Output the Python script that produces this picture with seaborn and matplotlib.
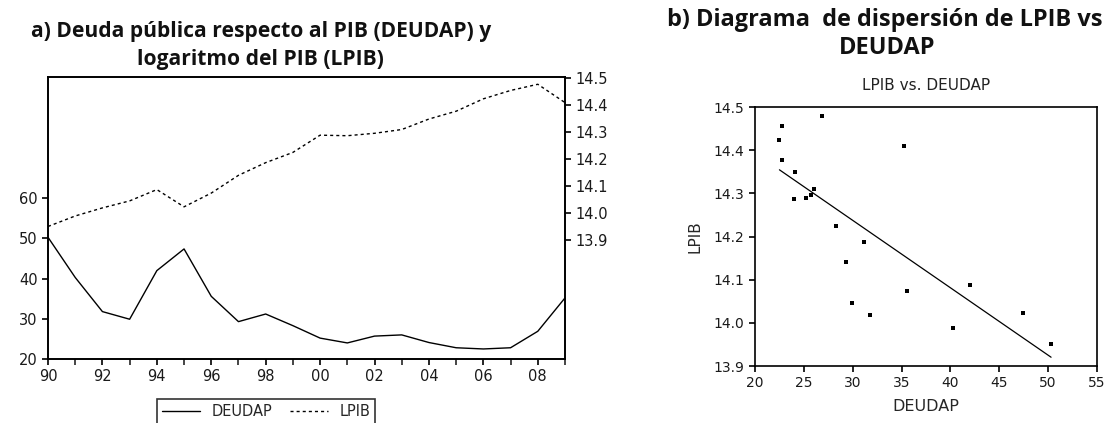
import matplotlib
matplotlib.use("Agg")
import matplotlib.pyplot as plt
from matplotlib.lines import Line2D
from matplotlib.ticker import MultipleLocator, FixedLocator, FuncFormatter
import numpy as np
import pandas as pd
import seaborn as sns

# Annual series, 1990-2009
years = list(range(1990, 2010))
deudap = [50.3, 40.3, 31.8, 29.9, 42.0, 47.4, 35.6, 29.3, 31.2, 28.3,
          25.2, 24.0, 25.7, 26.0, 24.1, 22.8, 22.5, 22.8, 26.9, 35.2]
lpib = [13.950, 13.989, 14.019, 14.045, 14.087, 14.023, 14.074, 14.140,
        14.187, 14.225, 14.289, 14.287, 14.296, 14.310, 14.349, 14.378,
        14.424, 14.455, 14.478, 14.410]

left_ticks = [20, 30, 40, 50, 60]
right_ticks = [13.9, 14.0, 14.1, 14.2, 14.3, 14.4, 14.5]
scatter_xticks = [20, 25, 30, 35, 40, 45, 50, 55]
scatter_yticks = [13.9, 14.0, 14.1, 14.2, 14.3, 14.4, 14.5]

df = pd.DataFrame({"year": years, "DEUDAP": deudap, "LPIB": lpib})

sns.set_style("ticks")
plt.rcParams["font.family"] = ["DejaVu Sans"]
plt.rcParams["axes.linewidth"] = 1.2

TITLE_FONT = ["Open Sans", "Lato", "DejaVu Sans"]

fig = plt.figure(figsize=(11.07, 4.23), dpi=100)


def tick_style(size):
    return dict(direction="out", length=4, width=1.2, colors="black",
                labelsize=size, labelcolor="#1a1a1a")


# ---- Panel a: time series with twin y axes ----
ax1 = fig.add_axes([48 / 1107, 1 - 359 / 423, 517 / 1107, 282 / 423])
sns.lineplot(data=df, x="year", y="DEUDAP", ax=ax1, color="black",
             linewidth=1.0, label="DEUDAP", legend=False)
ax1.set_xlim(1990, 2009)
ax1.set_ylim(20, 90.2)
ax1.yaxis.set_major_locator(FixedLocator(left_ticks))
ax1.xaxis.set_major_locator(MultipleLocator(2))
ax1.xaxis.set_minor_locator(MultipleLocator(1))
ax1.xaxis.set_major_formatter(FuncFormatter(lambda v, p: f"{int(v) % 100:02d}"))
ax1.tick_params(axis="both", which="major", **tick_style(10.5))
ax1.tick_params(axis="x", which="minor", direction="out", length=4, width=1.2)
ax1.set_xlabel("")
ax1.set_ylabel("")

ax2 = ax1.twinx()
sns.lineplot(data=df, x="year", y="LPIB", ax=ax2, color="black",
             linewidth=1.0, linestyle=(0, (2.2, 2.2)), label="LPIB", legend=False)
ax2.set_ylim(13.458, 14.505)
ax2.yaxis.set_major_locator(FixedLocator(right_ticks))
ax2.yaxis.set_major_formatter(FuncFormatter(lambda v, p: f"{v:.1f}"))
ax2.tick_params(axis="y", **tick_style(10.5))
ax2.set_ylabel("")
for a in (ax1, ax2):
    for s in a.spines.values():
        s.set_visible(True)
        s.set_color("black")
        s.set_linewidth(1.2)

handles = [Line2D([], [], color="black", lw=1.0),
           Line2D([], [], color="black", lw=1.0, linestyle=(0, (2.2, 2.2)))]
leg = fig.legend(handles, ["DEUDAP", "LPIB"], loc="upper center",
                 bbox_to_anchor=(266 / 1107, 1 - 399 / 423), ncol=2,
                 frameon=True, fancybox=False, fontsize=10.5, handlelength=2.6,
                 columnspacing=1.2, borderpad=0.35, borderaxespad=0)
leg.get_frame().set_edgecolor("black")
leg.get_frame().set_linewidth(1.2)

fig.text(261 / 1107, 1 - 31 / 423, "a) Deuda pública respecto al PIB (DEUDAP) y",
         ha="center", va="center", fontsize=15.1, fontweight="bold",
         family=TITLE_FONT, color="#111111")
fig.text(260 / 1107, 1 - 59 / 423, "logaritmo del PIB (LPIB)",
         ha="center", va="center", fontsize=15.1, fontweight="bold",
         family=TITLE_FONT, color="#111111")

# ---- Panel b: scatter with fitted line ----
ax3 = fig.add_axes([755 / 1107, 1 - 366 / 423, 342 / 1107, 259 / 423])
sns.scatterplot(data=df, x="DEUDAP", y="LPIB", ax=ax3, color="black",
                marker="s", s=7, linewidth=0)
sns.regplot(data=df, x="DEUDAP", y="LPIB", ax=ax3, ci=None, scatter=False,
            line_kws=dict(color="black", linewidth=0.9))
ax3.set_xlim(20, 55)
ax3.set_ylim(13.9, 14.5)
ax3.xaxis.set_major_locator(FixedLocator(scatter_xticks))
ax3.yaxis.set_major_locator(FixedLocator(scatter_yticks))
ax3.yaxis.set_major_formatter(FuncFormatter(lambda v, p: f"{v:.1f}"))
ax3.tick_params(axis="both", **tick_style(10))
for s in ax3.spines.values():
    s.set_visible(True)
    s.set_color("black")
    s.set_linewidth(1.2)
ax3.set_xlabel("DEUDAP", fontsize=11.5, labelpad=6)
ax3.set_ylabel("LPIB", fontsize=11, labelpad=8)
ax3.set_title("LPIB vs. DEUDAP", fontsize=11, pad=12, color="#222222")

fig.text(885 / 1107, 1 - 20 / 423, "b) Diagrama  de dispersión de LPIB vs",
         ha="center", va="center", fontsize=16.9, fontweight="bold",
         family=TITLE_FONT, color="#111111")
fig.text(887 / 1107, 1 - 48 / 423, "DEUDAP",
         ha="center", va="center", fontsize=16.9, fontweight="bold",
         family=TITLE_FONT, color="#111111")

fig.savefig("out.png", dpi=100)
